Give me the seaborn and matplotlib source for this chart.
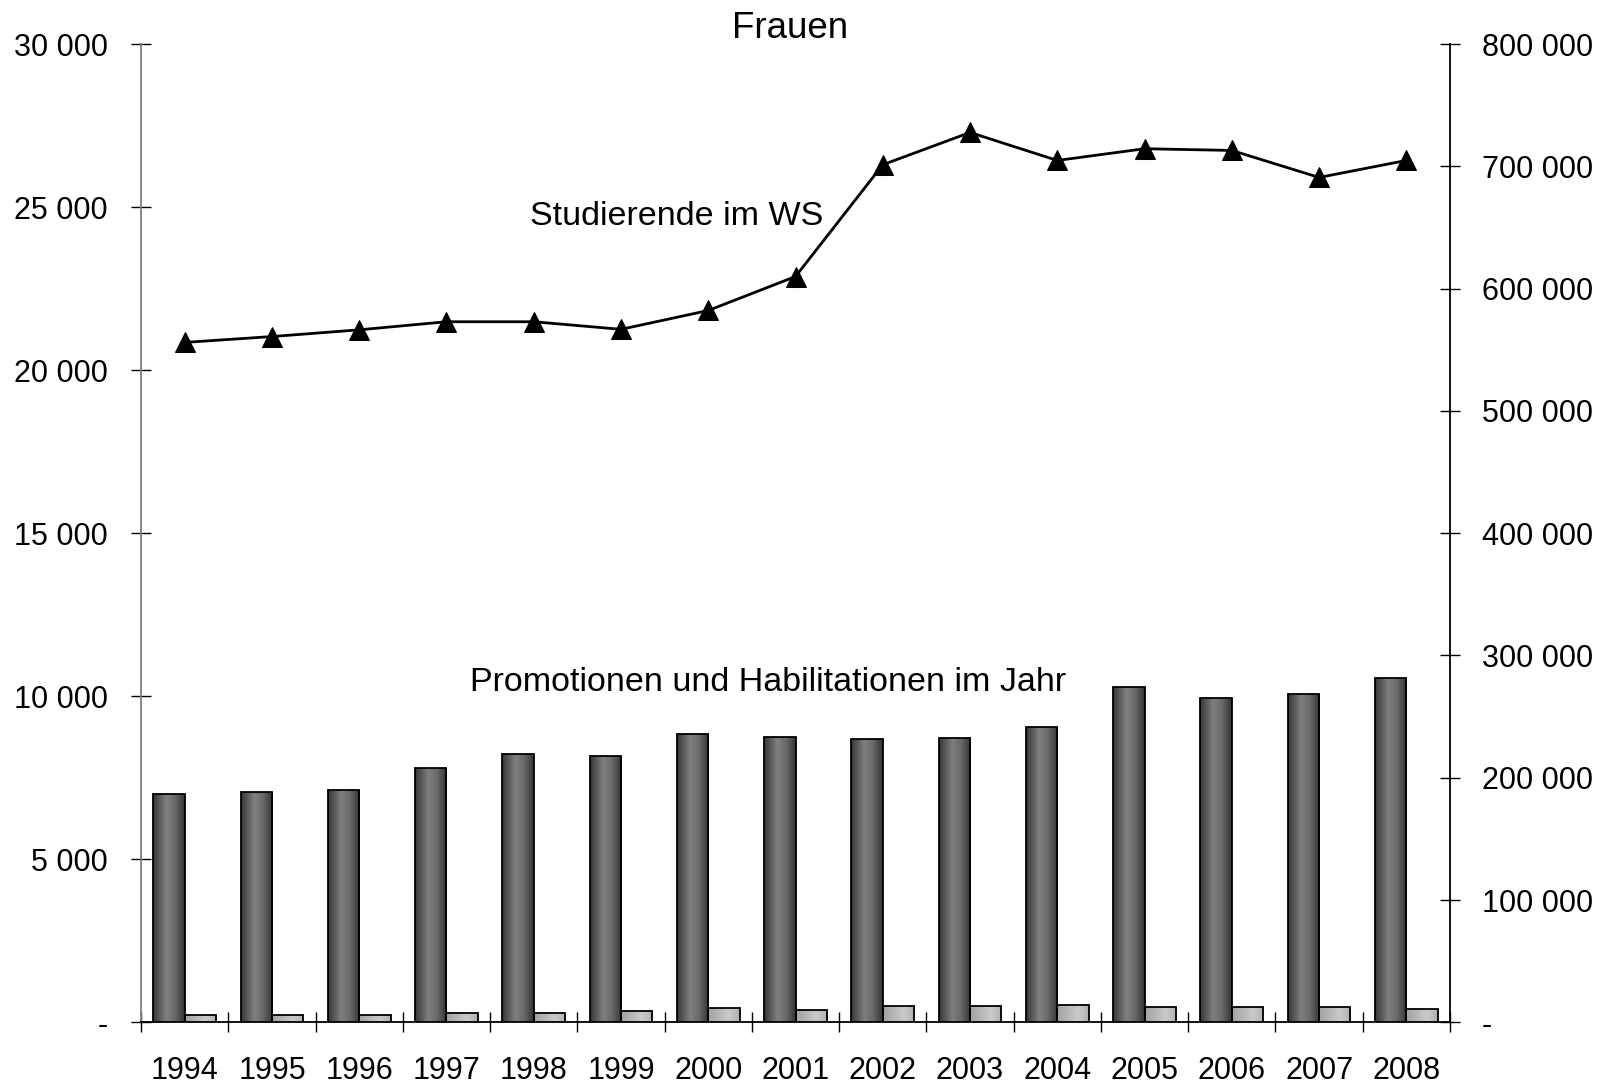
import numpy as np
import pandas as pd
import seaborn as sns
import matplotlib.pyplot as plt
from matplotlib.colors import LinearSegmentedColormap
from matplotlib.ticker import FuncFormatter, FixedLocator

years = ["1994", "1995", "1996", "1997", "1998", "1999", "2000", "2001",
         "2002", "2003", "2004", "2005", "2006", "2007", "2008"]
promotionen = [7000, 7060, 7130, 7790, 8220, 8180, 8830, 8760,
               8680, 8710, 9050, 10280, 9940, 10070, 10550]
habilitationen = [215, 215, 215, 295, 295, 337, 430, 387,
                  500, 500, 540, 460, 460, 460, 417]
studierende = [556000, 560800, 566300, 572900, 572900, 566700, 582100, 609900,
               701300, 727700, 704800, 714400, 713000, 690900, 704800]

df = pd.DataFrame({
    "Jahr": years * 2,
    "Anzahl": promotionen + habilitationen,
    "Art": ["Promotionen"] * len(years) + ["Habilitationen"] * len(years),
})

sns.set_style("white")
plt.rcParams["font.family"] = ["Liberation Sans", "DejaVu Sans"]
plt.rcParams["font.size"] = 22
plt.rcParams["text.color"] = "black"
plt.rcParams["xtick.color"] = "black"
plt.rcParams["ytick.color"] = "black"

fig = plt.figure(figsize=(16.05, 10.85), dpi=100)
ax = fig.add_axes([0.0879, 0.0578, 0.8155, 0.9016])

sns.barplot(data=df, x="Jahr", y="Anzahl", hue="Art", ax=ax, width=0.72,
            palette=["#606060", "#b8b8b8"], edgecolor="black", linewidth=1.3,
            legend=False, zorder=3)

# zylinderartige Schattierung der Balken
dark_cmap = LinearSegmentedColormap.from_list(
    "dark", [(0, "#363636"), (0.15, "#505050"), (0.42, "#808080"),
             (0.7, "#686868"), (0.9, "#444444"), (1, "#363636")])
light_cmap = LinearSegmentedColormap.from_list(
    "light", [(0, "#a2a2a2"), (0.3, "#b4b4b4"), (0.65, "#cacaca"),
              (0.9, "#b8b8b8"), (1, "#a8a8a8")])
grad = np.linspace(0, 1, 256).reshape(1, -1)
for cont, cmap in zip(ax.containers, [dark_cmap, light_cmap]):
    for bar in cont:
        x0, y0 = bar.get_x(), bar.get_y()
        w, h = bar.get_width(), bar.get_height()
        bar.set_facecolor("none")
        bar.set_zorder(4)
        im = ax.imshow(grad, extent=[x0, x0 + w, y0, y0 + h], aspect="auto",
                       cmap=cmap, zorder=3, interpolation="bicubic")
        im.set_clip_path(bar)

ax.set_xlim(-0.5, len(years) - 0.5)
ax.set_ylim(0, 30000)
ax.set_yticks(np.arange(0, 30001, 5000))
ax.set_xlabel("")
ax.set_ylabel("")


def fmt(v, pos):
    if v == 0:
        return "-"
    return f"{int(v):,}".replace(",", " ")


ax.yaxis.set_major_formatter(FuncFormatter(fmt))
ax.tick_params(axis="y", direction="inout", length=13.7, width=1,
               colors="black", pad=17, labelsize=22, left=True)
ax.tick_params(axis="x", which="major", length=0, pad=24, labelsize=22,
               labelcolor="black", bottom=True)
ax.xaxis.set_minor_locator(FixedLocator(np.arange(-0.5, len(years), 1)))
ax.tick_params(axis="x", which="minor", direction="inout", length=13.7,
               width=1, color="black", bottom=True)

for side in ["top", "right"]:
    ax.spines[side].set_visible(False)
ax.spines["left"].set_color("#808080")
ax.spines["left"].set_linewidth(1.3)
ax.spines["bottom"].set_color("black")
ax.spines["bottom"].set_linewidth(1.3)

ax2 = ax.twinx()
sns.lineplot(x=np.arange(len(years)), y=studierende, ax=ax2, color="black",
             linewidth=2.0, marker="^", markersize=15, markeredgecolor="black",
             markerfacecolor="black")
ax2.set_ylim(0, 800000)
ax2.set_yticks(np.arange(0, 800001, 100000))
ax2.yaxis.set_major_formatter(FuncFormatter(fmt))
ax2.tick_params(axis="y", direction="inout", length=13.7, width=1,
                colors="black", pad=16, labelsize=22, right=True)
ax2.set_ylabel("")
for side in ["top", "left", "bottom"]:
    ax2.spines[side].set_visible(False)
ax2.spines["right"].set_color("black")
ax2.spines["right"].set_linewidth(1.3)
ax2.set_xlim(-0.5, len(years) - 0.5)

fig.text(0.492, 1 - 29 / 1085, "Frauen", ha="center", va="center",
         fontsize=26.5, color="black")
ax.text(0.409, 0.824, "Studierende im WS", transform=ax.transAxes,
        ha="center", va="center", fontsize=24.5, color="black")
ax.text(0.479, 0.347, "Promotionen und Habilitationen im Jahr",
        transform=ax.transAxes, ha="center", va="center", fontsize=24.5,
        color="black")

fig.savefig("out.png", dpi=100, facecolor="white")
